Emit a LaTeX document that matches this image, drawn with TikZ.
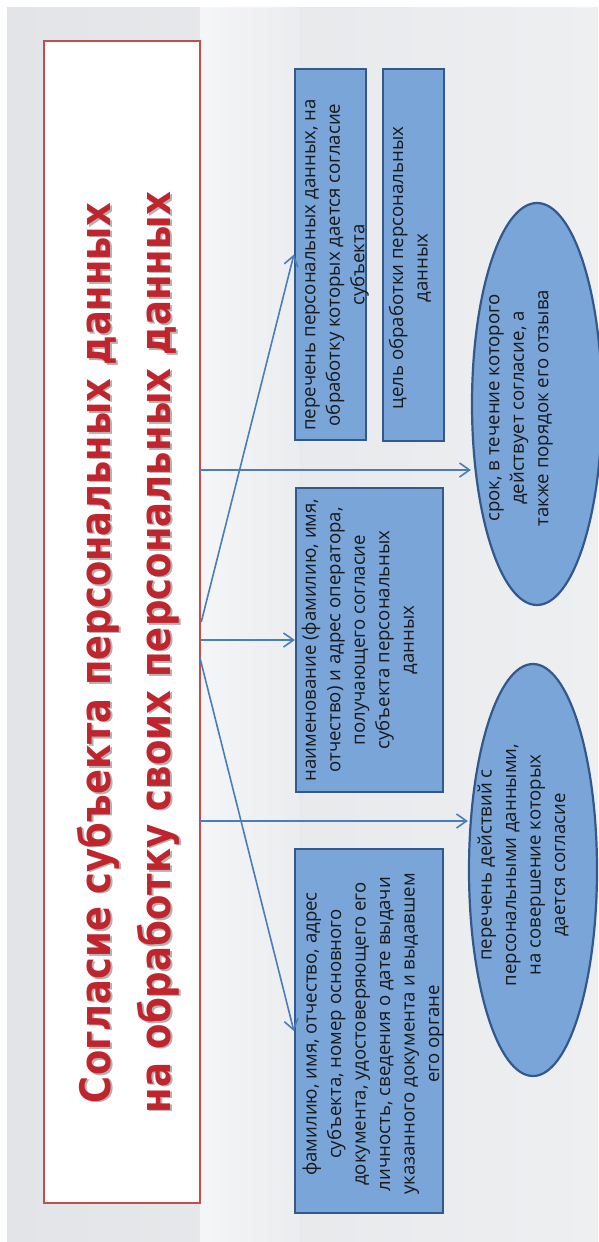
\documentclass[tikz,border=0pt]{standalone}
\usepackage{fontspec}
\usepackage{graphicx}
\setmainfont{Open Sans}
\newfontfamily\titlefont{DejaVu Sans}
\usetikzlibrary{arrows.meta,shapes.geometric,calc}
\definecolor{boxfill}{RGB}{122,165,216}
\definecolor{boxedge}{RGB}{50,88,140}
\definecolor{arrowc}{RGB}{74,126,187}
\definecolor{titlered}{RGB}{192,36,44}
\definecolor{framered}{RGB}{192,80,77}
\definecolor{bgleft}{RGB}{226,228,231}
\definecolor{bgright}{RGB}{238,239,241}
\definecolor{txt}{RGB}{25,25,25}
\begin{document}
\begin{tikzpicture}[x=1pt,y=-1pt,
  bluebox/.style={draw=boxedge, line width=2.2pt, fill=boxfill, rectangle, inner sep=0pt},
  blueell/.style={draw=boxedge, line width=2.2pt, fill=boxfill, ellipse, inner sep=0pt},
  boxtext/.style={rotate=90, align=center, inner sep=0pt, text=txt, font=\fontsize{18.6}{24.5}\selectfont},
  titletext/.style={rotate=90, inner sep=0pt, font=\titlefont\bfseries\fontsize{42}{48}\selectfont, anchor=base},
  link/.style={draw=arrowc, line width=1.6pt, -{Straight Barb[length=10pt,width=14pt,line width=1.6pt]}}
]
\useasboundingbox (0,0) rectangle (598,1242);
\fill[white] (0,0) rectangle (598,1242);
\shade[left color=bgleft, right color=bgright] (7,7) rectangle (598,1242);
\shade[left color=white, right color=bgright, opacity=0.6] (200,7) rectangle (300,1242);

% title frame
\node[draw=framered, line width=2.5pt, fill=white, minimum width=156pt, minimum height=1162pt, inner sep=0pt] (T) at (122,622) {};

% title text with shadow
\node[titletext, text=black!30] (t1s) at (112.5,654.5) {\resizebox{900pt}{\height}{Согласие субъекта персональных данных}};
\node[titletext, text=black!30] (t2s) at (172.5,654) {\resizebox{921pt}{\height}{на обработку своих персональных данных}};
\node[titletext, text=titlered] (t1) at (110,653) {\resizebox{900pt}{\height}{Согласие субъекта персональных данных}};
\node[titletext, text=titlered] (t2) at (170,652.5) {\resizebox{921pt}{\height}{на обработку своих персональных данных}};

% boxes
\node[bluebox, minimum width=71pt, minimum height=371pt] (A) at (330.5,254.5) {};
\node[bluebox, minimum width=61pt, minimum height=372pt] (B) at (413.5,255) {};
\node[bluebox, minimum width=147pt, minimum height=304pt] (C) at (369.5,640) {};
\node[bluebox, minimum width=148pt, minimum height=364pt] (D) at (369,1031) {};
\node[blueell, minimum width=130pt, minimum height=402pt] (E1) at (537,404) {};
\node[blueell, minimum width=128pt, minimum height=412pt] (E2) at (533,870) {};

% texts
\node[boxtext] (tA) at (337,265) {перечень персональных данных, на\\обработку которых дается согласие\\субъекта};
\node[boxtext] (tB) at (410,268) {цель обработки персональных\\данных};
\node[boxtext] (tC) at (359.5,640) {наименование (фамилию, имя,\\отчество) и адрес оператора,\\получающего согласие\\субъекта персональных\\данных};
\node[boxtext] (tD) at (373,1034) {фамилию, имя, отчество, адрес\\субъекта, номер основного\\документа, удостоверяющего его\\личность, сведения о дате выдачи\\указанного документа и выдавшем\\его органе};
\node[boxtext] (tE1) at (521,408) {срок, в течение которого\\действует согласие, а\\также порядок его отзыва};
\node[boxtext] (tE2) at (523,865) {перечень действий с\\персональными данными,\\на совершение которых\\дается согласие};

% connectors
\coordinate (s1) at (200,470);
\coordinate (s2) at (200,821);
\coordinate (s5) at (200,658);
\draw[link] (s1) -- (s1 -| E1.west);
\draw[link] (s2) -- (s2 -| E2.west);
\draw[link] (T.east |- C.west) -- (C.west);
\draw[link] (T.east) -- (A.west);
\draw[link] (s5) -- (D.west);
\end{tikzpicture}
\end{document}
